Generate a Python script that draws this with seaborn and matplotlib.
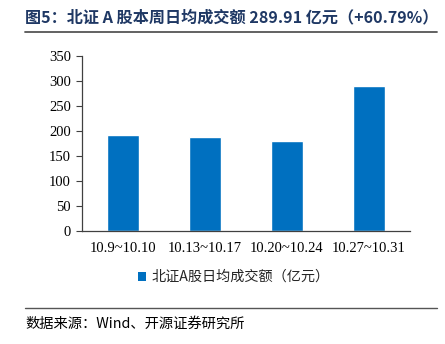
import matplotlib
matplotlib.use("Agg")
import matplotlib.pyplot as plt
import seaborn as sns
import pandas as pd
from matplotlib.lines import Line2D
from matplotlib.ticker import FixedLocator
from matplotlib.patches import Patch

categories = ["10.9~10.10", "10.13~10.17", "10.20~10.24", "10.27~10.31"]
values = [193.0, 187.8, 180.3, 289.91]
series_name = "北证A股日均成交额（亿元）"
title_text = "图5：北证 A 股本周日均成交额 289.91 亿元（+60.79%）"
source_text = "数据来源：Wind、开源证券研究所"
yticks = [0, 50, 100, 150, 200, 250, 300, 350]

sns.set_theme(style="white")
plt.rcParams['font.family'] = ['Liberation Serif', 'Noto Sans CJK SC', 'DejaVu Sans']

W, H = 445, 344
fig = plt.figure(figsize=(W / 100, H / 100), dpi=100)
ax = fig.add_axes([82 / W, 1 - 231 / H, (410 - 82) / W, (231 - 56) / H])

df = pd.DataFrame({"period": categories, "value": values, "series": series_name})
bar_color = "#0070C0"
sns.barplot(data=df, x="period", y="value", hue="series", palette=[bar_color],
            width=0.4, ax=ax, legend=False, saturation=1)

ax.set_xlim(-0.5, len(categories) - 0.5)
ax.set_ylim(0, 350)
ax.set_yticks(yticks)
ax.set_yticklabels([str(v) for v in yticks], fontsize=10.5, family='Liberation Serif', color='black')
ax.set_xlabel("")
ax.set_ylabel("")
ax.set_xticks(range(len(categories)))
ax.set_xticklabels(categories, fontsize=10.5, family='Liberation Serif', color='black')
ax.xaxis.set_minor_locator(FixedLocator([i + 0.5 for i in range(len(categories))]))
ax.tick_params(axis='x', which='major', length=0, pad=8)
ax.tick_params(axis='x', which='minor', length=4, direction='in', width=0.8, color='#404040')
ax.tick_params(axis='y', which='major', length=4, direction='out', width=0.8, color='#404040', pad=4, left=True)

for s in ['top', 'right']:
    ax.spines[s].set_visible(False)
for s in ['left', 'bottom']:
    ax.spines[s].set_visible(True)
    ax.spines[s].set_color('#404040')
    ax.spines[s].set_linewidth(0.9)
ax.grid(False)

handles = [Patch(facecolor=bar_color, edgecolor='none', label=series_name)]
fig.legend(handles=handles, loc='center', bbox_to_anchor=(234 / W, 1 - 277 / H),
           frameon=False, prop={'family': ['Noto Sans CJK SC'], 'size': 10.2},
           handlelength=0.6, handleheight=0.6, handletextpad=0.4)

fig.text(25 / W, 1 - 17 / H, title_text, fontsize=11.6, fontweight='bold',
         color='#1F3864', family=['Noto Sans CJK SC'], va='center', ha='left')
fig.add_artist(Line2D([25 / W, 437 / W], [1 - 31.5 / H, 1 - 31.5 / H], transform=fig.transFigure,
                      color='#555555', linewidth=1.3))
fig.add_artist(Line2D([25 / W, 437 / W], [1 - 308 / H, 1 - 308 / H], transform=fig.transFigure,
                      color='#555555', linewidth=1.0))
fig.text(25 / W, 1 - 324 / H, source_text, fontsize=10.3, color='black',
         family=['Noto Sans CJK SC', 'Liberation Serif'], va='center', ha='left')

fig.savefig("out.png", dpi=100)
